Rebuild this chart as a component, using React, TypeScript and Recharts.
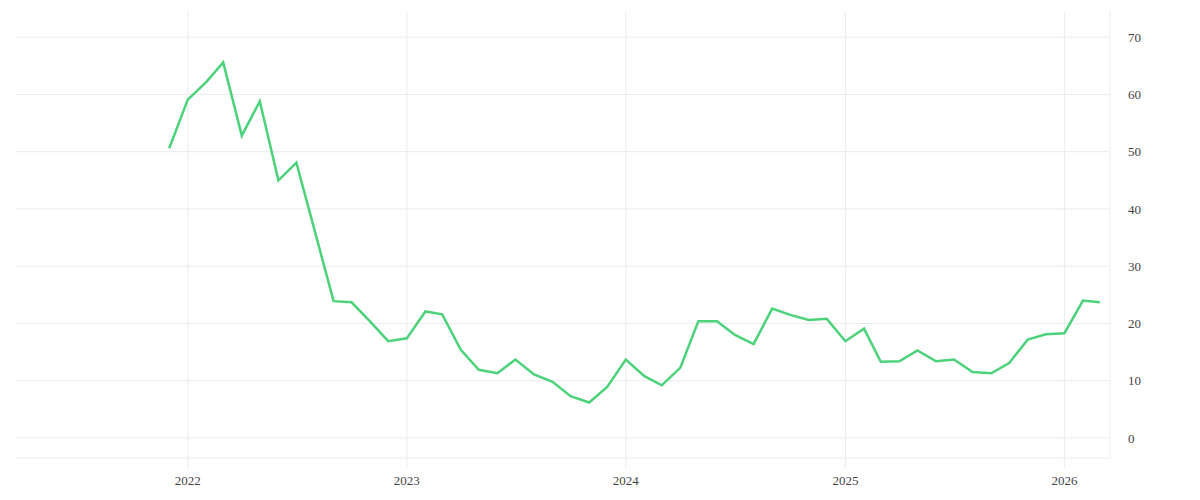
import React from 'react';
import { LineChart, Line, XAxis, YAxis, CartesianGrid } from 'recharts';

const months = [
  '2021-12',
  '2022-01', '2022-02', '2022-03', '2022-04', '2022-05', '2022-06',
  '2022-07', '2022-08', '2022-09', '2022-10', '2022-11', '2022-12',
  '2023-01', '2023-02', '2023-03', '2023-04', '2023-05', '2023-06',
  '2023-07', '2023-08', '2023-09', '2023-10', '2023-11', '2023-12',
  '2024-01', '2024-02', '2024-03', '2024-04', '2024-05', '2024-06',
  '2024-07', '2024-08', '2024-09', '2024-10', '2024-11', '2024-12',
  '2025-01', '2025-02', '2025-03', '2025-04', '2025-05', '2025-06',
  '2025-07', '2025-08', '2025-09', '2025-10', '2025-11', '2025-12',
  '2026-01', '2026-02', '2026-03',
];

const values = [
  50.6,
  59.1, 62.2, 65.6, 52.8, 58.8, 45.0,
  48.1, 36.0, 23.9, 23.7, 20.3, 16.9,
  17.4, 22.1, 21.6, 15.4, 11.9, 11.3,
  13.7, 11.1, 9.8, 7.3, 6.2, 8.9,
  13.7, 10.8, 9.2, 12.3, 20.4, 20.4,
  18.0, 16.4, 22.6, 21.5, 20.6, 20.8,
  16.9, 19.1, 13.3, 13.4, 15.3, 13.4,
  13.7, 11.5, 11.3, 13.1, 17.2, 18.1,
  18.3, 24.0, 23.7,
];

const yearTicks = ['2022', '2023', '2024', '2025', '2026'];
const yTicks = [0, 10, 20, 30, 40, 50, 60, 70];

const toTs = (s: string) => {
  const [y, m, d] = s.split('-').map(Number);
  return Date.UTC(y, (m || 1) - 1, d || 1);
};

const data = months.map((m, i) => ({ t: toTs(m), value: values[i] }));
const xTicks = yearTicks.map(y => toTs(y));
const xDomain = [toTs('2021-03-19'), toTs('2026-03-18')];

const GRID = '#ebebeb';
const TEXT = '#444444';

export default function App() {
  return (
    <LineChart
      width={1184}
      height={484}
      data={data}
      margin={{ top: 4, right: 0, bottom: 4, left: 7 }}
    >
      <CartesianGrid
        stroke={GRID}
        strokeWidth={1}
        horizontalValues={yTicks}
        verticalValues={xTicks}
      />
      <XAxis
        dataKey="t"
        type="number"
        scale="time"
        domain={xDomain}
        ticks={xTicks}
        allowDataOverflow
        tickFormatter={(v: number) => String(new Date(v).getUTCFullYear())}
        axisLine={{ stroke: GRID }}
        tickLine={{ stroke: GRID }}
        tickSize={10}
        tickMargin={8}
        height={30}
        tick={{ fill: TEXT, fontSize: 13 }}
      />
      <YAxis
        orientation="right"
        type="number"
        domain={[-3.5, 74.4]}
        ticks={yTicks}
        allowDataOverflow
        axisLine={{ stroke: GRID }}
        tickLine={false}
        tickSize={10}
        tickMargin={8}
        width={82}
        tick={{ fill: TEXT, fontSize: 13, textAnchor: 'start' }}
      />
      <Line
        type="linear"
        dataKey="value"
        stroke="#4cd27a"
        strokeWidth={2.5}
        dot={false}
        isAnimationActive={false}
      />
    </LineChart>
  );
}
